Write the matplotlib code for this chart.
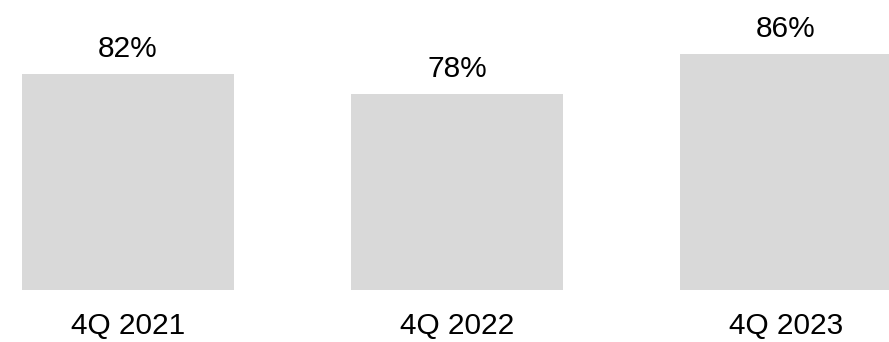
import matplotlib
matplotlib.use("Agg")
import matplotlib.pyplot as plt

quarters = ["4Q 2021", "4Q 2022", "4Q 2023"]
shares = [82, 78, 86]

plt.rcParams["font.family"] = ["Liberation Sans", "DejaVu Sans"]

fig = plt.figure(figsize=(8.89, 3.42), dpi=100)
ax = fig.add_axes([0, 52 / 342, 1, 290 / 342])

x = range(len(quarters))
ax.bar(x, shares, width=0.645, color="#d9d9d9")

for i, v in zip(x, shares):
    ax.annotate(f"{v}%", (i, v), xytext=(0, 12.3), textcoords="offset points",
                ha="center", va="baseline", fontsize=21.5, color="#000000")

ax.set_xlim(-0.389, 2.313)
ax.set_ylim(38.8, 96.8)
ax.set_xticks(list(x), quarters, fontsize=21.5)
ax.tick_params(axis="x", length=0, pad=16)
ax.set_yticks([])
for s in ax.spines.values():
    s.set_visible(False)

fig.savefig("out.png", dpi=100)
